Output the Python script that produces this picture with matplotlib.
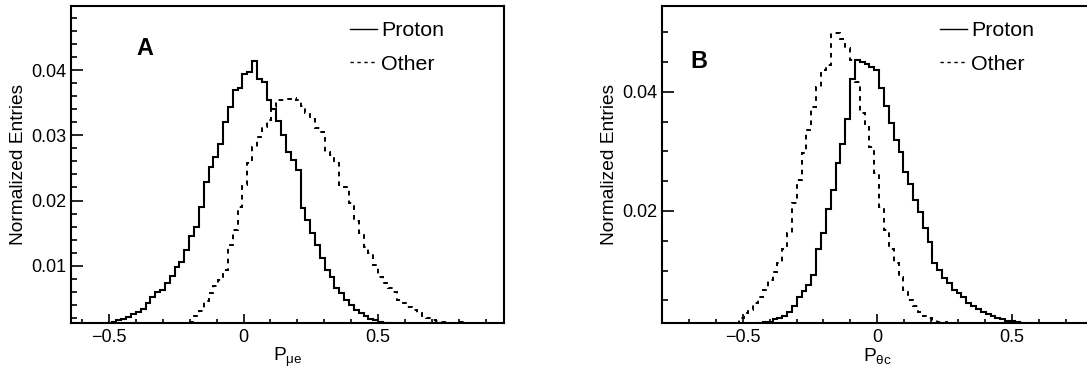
import numpy as np
import matplotlib
matplotlib.use("Agg")
import matplotlib.pyplot as plt
from matplotlib.ticker import MultipleLocator, FuncFormatter

plt.rcParams['font.family'] = ['Liberation Sans', 'DejaVu Sans']
plt.rcParams['mathtext.default'] = 'regular'

bin_width = 0.018

# panel A: P_mu_e
a_proton_start = -0.508
a_proton = [0.0012, 0.0014, 0.0017, 0.0018, 0.0021, 0.0026, 0.0028, 0.0033, 0.0042, 0.0052,
            0.0059, 0.0063, 0.0073, 0.0084, 0.0098, 0.0106, 0.0124, 0.0145, 0.0160, 0.0190,
            0.0229, 0.0252, 0.0267, 0.0287, 0.0321, 0.0344, 0.0370, 0.0373, 0.0394, 0.0398,
            0.0415, 0.0387, 0.0382, 0.0355, 0.0341, 0.0322, 0.0301, 0.0275, 0.0262, 0.0247,
            0.0188, 0.0170, 0.0150, 0.0132, 0.0111, 0.0093, 0.0083, 0.0065, 0.0058, 0.0047,
            0.0040, 0.0032, 0.0027, 0.0022, 0.0018, 0.0016, 0.0013, 0.0012, 0.0012]
a_other_start = -0.238
a_other = [0.0012, 0.0012, 0.0013, 0.0022, 0.0030, 0.0045, 0.0058, 0.0068, 0.0078, 0.0093,
           0.0132, 0.0155, 0.0190, 0.0224, 0.0257, 0.0282, 0.0298, 0.0313, 0.0323, 0.0344,
           0.0354, 0.0355, 0.0356, 0.0358, 0.0354, 0.0346, 0.0334, 0.0326, 0.0311, 0.0305,
           0.0275, 0.0270, 0.0257, 0.0224, 0.0221, 0.0196, 0.0168, 0.0150, 0.0129, 0.0119,
           0.0101, 0.0083, 0.0073, 0.0065, 0.0060, 0.0047, 0.0042, 0.0037, 0.0032, 0.0027,
           0.0023, 0.0020, 0.0017, 0.0015, 0.0014, 0.0013, 0.0012, 0.0013, 0.0013, 0.0012]

# panel B: P_theta_c
b_proton_start = -0.443
b_proton = [0.0012, 0.0014, 0.0014, 0.0018, 0.0020, 0.0023, 0.0031, 0.0040, 0.0056, 0.0065,
            0.0076, 0.0093, 0.0137, 0.0163, 0.0204, 0.0235, 0.0280, 0.0313, 0.0355, 0.0422,
            0.0453, 0.0450, 0.0447, 0.0442, 0.0436, 0.0407, 0.0376, 0.0347, 0.0319, 0.0299,
            0.0266, 0.0246, 0.0218, 0.0199, 0.0172, 0.0148, 0.0112, 0.0101, 0.0087, 0.0079,
            0.0067, 0.0062, 0.0056, 0.0045, 0.0040, 0.0035, 0.0031, 0.0027, 0.0024, 0.0021,
            0.0019, 0.0016, 0.0015, 0.0013, 0.0012]
b_other_start = -0.533
b_other = [0.0012, 0.0020, 0.0028, 0.0034, 0.0045, 0.0056, 0.0068, 0.0084, 0.0098, 0.0112,
           0.0137, 0.0163, 0.0213, 0.0252, 0.0297, 0.0336, 0.0375, 0.0408, 0.0436, 0.0445,
           0.0498, 0.0498, 0.0489, 0.0473, 0.0453, 0.0417, 0.0364, 0.0341, 0.0308, 0.0263,
           0.0207, 0.0168, 0.0137, 0.0112, 0.0090, 0.0067, 0.0051, 0.0040, 0.0031, 0.0024,
           0.0020, 0.0017, 0.0014, 0.0013, 0.0012]


def edges(start, vals):
    return start + bin_width * np.arange(len(vals) + 1)


def fmt(v, pos):
    return f"{v:g}".replace('-', '\u2212')


fig = plt.figure(figsize=(10.87, 3.72), dpi=100)
ax_a = fig.add_axes([71 / 1087, 49 / 372, 433 / 1087, 317 / 372])
ax_b = fig.add_axes([662 / 1087, 49 / 372, 430.5 / 1087, 317 / 372])

panels = [
    (ax_a, a_proton_start, a_proton, a_other_start, a_other, (-0.641, 0.968), (0.00117, 0.0499),
     0.01, 0.002, 'P$_{μe}$', 'A', (0.152, 0.845), 0.644),
    (ax_b, b_proton_start, b_proton, b_other_start, b_other, (-0.8, 0.8), (0.0012, 0.0544),
     0.02, 0.005, 'P$_{θc}$', 'B', (0.067, 0.804), 0.646),
]

dash = (0, (2.4, 2.6))

for ax, ps, pv, os_, ov, xl, yl, ymaj, ymin, xlab, letter, lpos, legx in panels:
    ax.stairs(pv, edges(ps, pv), color='black', lw=1.5, label='Proton')
    ax.stairs(ov, edges(os_, ov), color='black', lw=1.4, ls=dash, label='Other')
    ax.set_xlim(*xl)
    ax.set_ylim(*yl)
    ax.xaxis.set_major_locator(MultipleLocator(0.5))
    ax.xaxis.set_minor_locator(MultipleLocator(0.1))
    ax.yaxis.set_major_locator(MultipleLocator(ymaj))
    ax.yaxis.set_minor_locator(MultipleLocator(ymin))
    ax.xaxis.set_major_formatter(FuncFormatter(fmt))
    ax.yaxis.set_major_formatter(FuncFormatter(fmt))
    ax.tick_params(axis='both', which='both', direction='in', top=False, right=False,
                   labelsize=13, width=1.2)
    ax.tick_params(axis='x', which='major', length=6.5, pad=4)
    ax.tick_params(axis='x', which='minor', length=3.2)
    ax.tick_params(axis='y', which='major', length=8.6, pad=3)
    ax.tick_params(axis='y', which='minor', length=4.3)
    for sp in ax.spines.values():
        sp.set_linewidth(1.5)
    ax.set_ylabel('Normalized Entries', fontsize=13.8)
    ax.yaxis.set_label_coords(-0.102, 0.5)
    ax.set_xlabel(xlab, fontsize=13.8)
    ax.xaxis.set_label_coords(0.5, -0.072)
    ax.text(lpos[0], lpos[1], letter, transform=ax.transAxes, fontsize=16.8,
            fontweight='bold', va='baseline', ha='left')
    leg = ax.legend(loc='upper left', bbox_to_anchor=(legx, 0.952), frameon=False,
                    fontsize=15.4, handlelength=1.26, handletextpad=0.2, labelspacing=0.68,
                    borderpad=0, borderaxespad=0)
    for h in leg.legend_handles:
        h.set_linewidth(1.0)
        if h.get_label() == 'Other':
            h.set_linestyle((0, (3.0, 4.3)))

fig.savefig('out.png', dpi=100)
